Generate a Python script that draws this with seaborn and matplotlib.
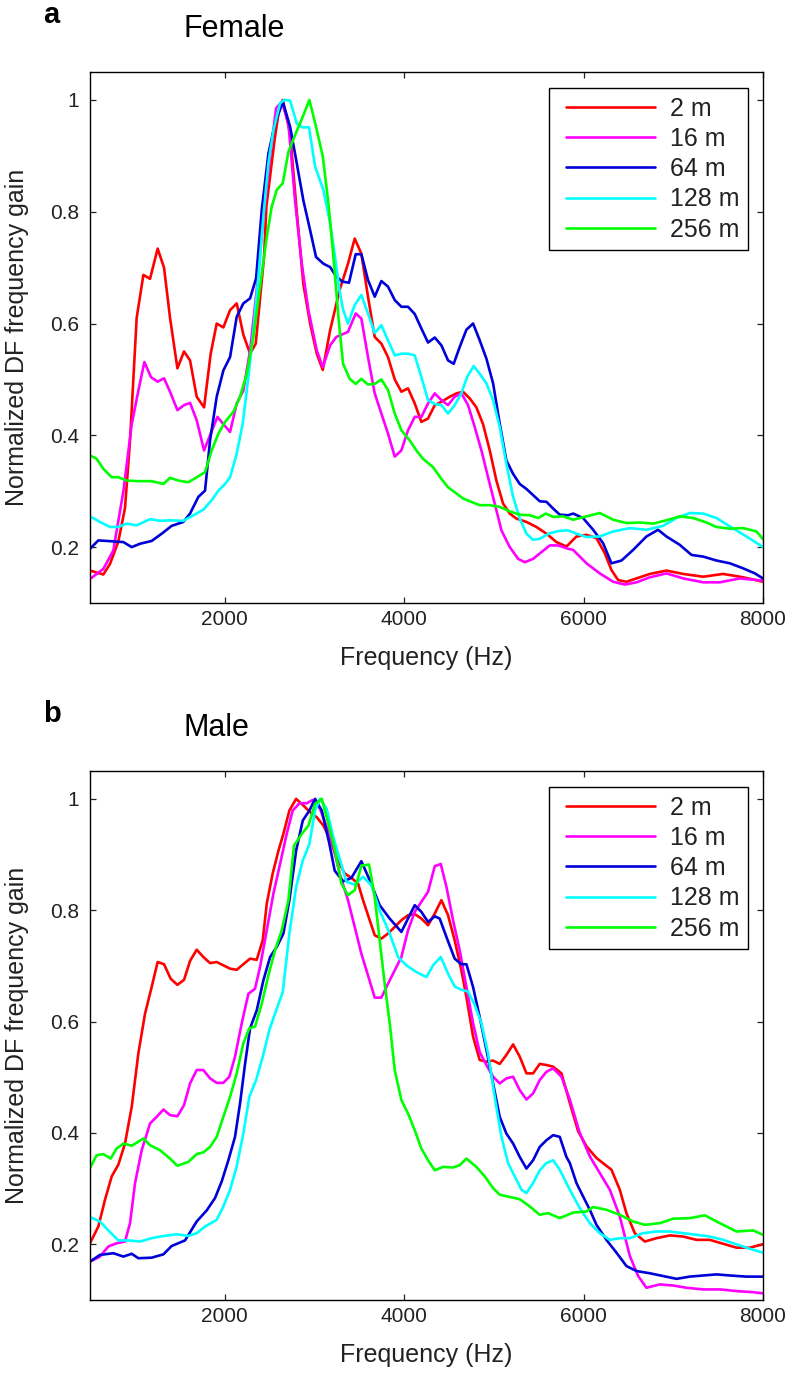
import matplotlib
matplotlib.use("Agg")
import matplotlib.pyplot as plt
from matplotlib.legend_handler import HandlerLine2D
import numpy as np
import pandas as pd
import seaborn as sns

# ---------------- data ----------------
distances = ["2 m", "16 m", "64 m", "128 m", "256 m"]
colors = ["#ff0000", "#ff00ff", "#0000d8", "#00ffff", "#00ff00"]
panel_titles = ["Female", "Male"]
panel_letters = ["a", "b"]
x_ticks = [2000, 4000, 6000, 8000]
y_ticks = [0.2, 0.4, 0.6, 0.8, 1.0]
y_tick_labels = ["0.2", "0.4", "0.6", "0.8", "1"]

# Female (panel a)
fem_2m_x = [500,649,723,816,890,946,1020,1095,1169,1254,1325,1392,1474,1548,1615,1689,1771,1845,1912,1986,2061,2135,2209,2284,2347,2440,2466,2558,2600,2648,2730,2804,2878,2953,3027,3094,3176,3282,3375,3450,3524,3598,3673,3747,3821,3896,3970,4044,4119,4193,4267,4342,4416,4509,4583,4657,4732,4806,4880,4955,5029,5103,5178,5252,5364,5475,5587,5698,5810,5921,6033,6144,6237,6311,6386,6478,6590,6739,6924,7110,7333,7556,7779,8000]
fem_2m_y = [0.158,0.151,0.17,0.21,0.27,0.39,0.61,0.687,0.68,0.734,0.70,0.61,0.52,0.55,0.534,0.469,0.45,0.546,0.60,0.593,0.624,0.636,0.58,0.546,0.564,0.72,0.81,0.93,0.975,1.0,0.94,0.80,0.67,0.60,0.546,0.517,0.588,0.66,0.707,0.752,0.725,0.648,0.576,0.564,0.54,0.50,0.478,0.484,0.457,0.424,0.43,0.454,0.46,0.469,0.475,0.478,0.466,0.45,0.42,0.373,0.319,0.278,0.26,0.251,0.245,0.236,0.224,0.209,0.201,0.219,0.222,0.216,0.189,0.159,0.141,0.138,0.144,0.152,0.158,0.152,0.147,0.152,0.146,0.138]

fem_16m_x = [500,649,760,872,965,1039,1106,1180,1254,1325,1392,1474,1548,1615,1689,1771,1845,1920,1986,2061,2135,2209,2284,2358,2432,2507,2574,2637,2711,2785,2860,2934,3027,3094,3176,3245,3375,3461,3524,3598,3673,3747,3821,3896,3970,4044,4119,4193,4267,4342,4416,4490,4564,4639,4713,4787,4862,4936,5010,5085,5178,5271,5345,5438,5531,5624,5717,5828,5884,6033,6181,6330,6460,6590,6739,6924,7110,7333,7519,7742,8000]
fem_16m_y = [0.143,0.161,0.194,0.30,0.42,0.48,0.531,0.504,0.496,0.502,0.478,0.445,0.454,0.458,0.427,0.373,0.403,0.433,0.42,0.406,0.457,0.48,0.552,0.66,0.79,0.90,0.985,0.997,0.958,0.82,0.707,0.624,0.552,0.522,0.561,0.576,0.585,0.618,0.609,0.54,0.475,0.439,0.403,0.362,0.373,0.409,0.433,0.433,0.457,0.475,0.463,0.454,0.469,0.475,0.454,0.415,0.373,0.325,0.278,0.23,0.2,0.179,0.173,0.179,0.191,0.203,0.203,0.197,0.195,0.171,0.153,0.138,0.133,0.137,0.146,0.153,0.144,0.137,0.137,0.144,0.14]

fem_64m_x = [500,593,872,965,1057,1187,1299,1410,1540,1615,1708,1782,1838,1912,1986,2061,2135,2209,2284,2351,2414,2488,2562,2648,2730,2804,2878,2953,3019,3101,3176,3245,3312,3386,3461,3524,3598,3673,3747,3821,3896,3970,4044,4119,4193,4267,4342,4416,4490,4553,4620,4695,4769,4843,4918,4992,5066,5140,5215,5289,5364,5438,5512,5587,5661,5735,5828,5884,5995,6107,6218,6311,6423,6553,6701,6831,6924,7073,7203,7333,7482,7631,7779,7909,8000]
fem_64m_y = [0.197,0.212,0.209,0.20,0.206,0.211,0.224,0.238,0.245,0.26,0.29,0.301,0.391,0.469,0.516,0.54,0.612,0.636,0.645,0.681,0.803,0.904,0.958,0.997,0.952,0.887,0.82,0.767,0.719,0.707,0.701,0.684,0.675,0.673,0.724,0.724,0.678,0.648,0.676,0.666,0.642,0.63,0.63,0.617,0.591,0.566,0.575,0.561,0.534,0.528,0.558,0.589,0.60,0.57,0.537,0.493,0.421,0.355,0.331,0.313,0.304,0.293,0.282,0.281,0.269,0.258,0.257,0.26,0.252,0.231,0.207,0.171,0.176,0.195,0.219,0.231,0.219,0.204,0.186,0.183,0.176,0.171,0.162,0.153,0.144]

fem_128m_x = [500,611,723,816,909,1020,1169,1280,1392,1540,1652,1763,1856,1931,2005,2061,2135,2202,2265,2321,2377,2432,2488,2544,2618,2666,2730,2804,2867,2941,3008,3101,3176,3230,3280,3320,3375,3450,3524,3598,3673,3747,3821,3896,3970,4044,4119,4193,4267,4342,4416,4490,4564,4639,4701,4776,4843,4918,4992,5066,5140,5215,5289,5364,5438,5512,5624,5735,5828,5921,6033,6181,6330,6516,6701,6887,7036,7185,7333,7482,7631,7816,8000]
fem_128m_y = [0.255,0.245,0.236,0.236,0.242,0.239,0.25,0.247,0.248,0.247,0.257,0.267,0.284,0.301,0.313,0.325,0.367,0.421,0.504,0.588,0.684,0.791,0.887,0.946,0.994,1.0,0.999,0.958,0.951,0.951,0.881,0.839,0.78,0.72,0.66,0.625,0.60,0.633,0.651,0.618,0.583,0.597,0.57,0.543,0.546,0.546,0.543,0.504,0.463,0.456,0.454,0.439,0.454,0.475,0.504,0.524,0.51,0.493,0.463,0.415,0.349,0.29,0.251,0.224,0.213,0.215,0.225,0.229,0.23,0.224,0.218,0.219,0.228,0.234,0.231,0.238,0.252,0.261,0.26,0.252,0.237,0.219,0.20]

fem_256m_x = [500,574,649,742,816,909,1039,1187,1318,1392,1485,1596,1689,1782,1856,1931,2005,2098,2172,2247,2321,2395,2470,2525,2581,2648,2711,2785,2871,2945,3019,3094,3157,3213,3268,3320,3394,3461,3524,3598,3673,3747,3821,3896,3970,4063,4137,4211,4323,4416,4490,4583,4657,4732,4843,4955,5066,5178,5289,5401,5494,5579,5661,5772,5884,6033,6181,6330,6478,6627,6776,6924,7073,7222,7370,7482,7631,7779,7928,8000]
fem_256m_y = [0.364,0.358,0.34,0.325,0.325,0.319,0.318,0.318,0.313,0.324,0.319,0.316,0.325,0.334,0.373,0.403,0.424,0.442,0.469,0.51,0.576,0.666,0.755,0.809,0.839,0.851,0.907,0.937,0.97,1.0,0.952,0.899,0.815,0.719,0.612,0.528,0.501,0.492,0.501,0.491,0.492,0.50,0.481,0.439,0.409,0.391,0.373,0.358,0.343,0.322,0.307,0.296,0.287,0.282,0.275,0.275,0.272,0.264,0.258,0.257,0.252,0.26,0.254,0.255,0.249,0.255,0.261,0.249,0.243,0.244,0.242,0.248,0.255,0.252,0.244,0.236,0.233,0.234,0.228,0.214]

# Male (panel b)
mal_2m_x = [500,593,667,742,816,890,965,1039,1113,1187,1254,1325,1399,1474,1548,1615,1689,1763,1838,1912,1986,2061,2135,2209,2284,2358,2425,2470,2536,2600,2655,2722,2797,2878,2953,3027,3101,3176,3245,3338,3413,3487,3543,3617,3673,3747,3821,3896,3970,4044,4119,4193,4267,4342,4416,4490,4564,4639,4695,4769,4843,4918,4992,5066,5140,5215,5289,5364,5438,5512,5587,5661,5754,5847,5940,6033,6144,6311,6404,6478,6571,6683,6813,6962,7110,7259,7407,7556,7705,7853,8000]
mal_2m_y = [0.202,0.232,0.28,0.322,0.343,0.381,0.447,0.543,0.614,0.662,0.707,0.703,0.677,0.666,0.675,0.709,0.729,0.716,0.705,0.707,0.701,0.695,0.693,0.703,0.713,0.711,0.746,0.812,0.866,0.907,0.937,0.979,1.0,0.988,0.976,0.967,0.952,0.928,0.895,0.866,0.858,0.848,0.818,0.782,0.755,0.749,0.758,0.77,0.782,0.791,0.793,0.785,0.773,0.794,0.818,0.791,0.746,0.692,0.644,0.573,0.531,0.528,0.53,0.524,0.54,0.559,0.537,0.507,0.507,0.524,0.522,0.519,0.507,0.454,0.403,0.376,0.355,0.334,0.298,0.256,0.22,0.205,0.211,0.216,0.214,0.208,0.208,0.201,0.194,0.194,0.20]

mal_16m_x = [500,611,704,797,890,946,1002,1076,1169,1243,1318,1392,1474,1548,1615,1689,1763,1838,1912,1986,2053,2116,2191,2265,2339,2395,2470,2544,2618,2692,2759,2834,2915,2982,3064,3138,3213,3282,3375,3450,3524,3598,3673,3747,3821,3896,3970,4044,4119,4193,4267,4342,4409,4472,4546,4620,4695,4769,4843,4918,4992,5066,5140,5215,5289,5364,5438,5512,5587,5661,5754,5847,5958,6070,6181,6293,6404,6516,6609,6701,6850,6999,7147,7333,7519,7705,7891,8000]
mal_16m_y = [0.169,0.178,0.196,0.202,0.205,0.238,0.31,0.369,0.417,0.429,0.442,0.432,0.43,0.45,0.489,0.513,0.513,0.498,0.49,0.49,0.501,0.537,0.597,0.65,0.659,0.698,0.764,0.83,0.883,0.937,0.979,0.992,0.992,0.998,0.982,0.949,0.913,0.866,0.818,0.77,0.722,0.683,0.643,0.643,0.668,0.692,0.716,0.764,0.797,0.815,0.833,0.879,0.883,0.842,0.782,0.728,0.662,0.597,0.545,0.522,0.501,0.489,0.498,0.501,0.477,0.46,0.471,0.495,0.51,0.516,0.501,0.46,0.40,0.358,0.328,0.298,0.25,0.179,0.143,0.122,0.128,0.126,0.122,0.119,0.119,0.116,0.114,0.112]

mal_64m_x = [500,611,760,872,965,1039,1187,1318,1410,1559,1689,1801,1893,1968,2042,2116,2172,2228,2284,2358,2432,2507,2581,2655,2722,2797,2871,2945,3008,3083,3168,3227,3320,3413,3524,3617,3728,3840,3970,4044,4119,4193,4267,4342,4397,4472,4564,4639,4695,4769,4843,4918,4992,5066,5140,5215,5289,5364,5438,5512,5587,5661,5735,5809,5847,5921,5995,6070,6144,6255,6367,6478,6590,6739,6887,7036,7185,7333,7482,7631,7816,8000]
mal_64m_y = [0.169,0.181,0.184,0.178,0.183,0.175,0.176,0.182,0.197,0.207,0.241,0.261,0.283,0.313,0.351,0.393,0.453,0.524,0.588,0.62,0.674,0.716,0.734,0.758,0.818,0.907,0.961,0.979,1.0,0.979,0.919,0.871,0.852,0.858,0.888,0.854,0.809,0.785,0.761,0.785,0.809,0.797,0.779,0.789,0.785,0.752,0.713,0.703,0.703,0.662,0.608,0.549,0.489,0.429,0.399,0.381,0.357,0.336,0.351,0.375,0.387,0.396,0.393,0.357,0.346,0.31,0.286,0.262,0.235,0.208,0.185,0.161,0.152,0.148,0.143,0.138,0.142,0.144,0.146,0.144,0.142,0.142]

mal_128m_x = [500,611,704,816,927,1057,1187,1318,1466,1596,1689,1782,1912,1986,2061,2135,2209,2276,2351,2425,2499,2574,2648,2722,2797,2871,2945,3008,3064,3138,3213,3287,3357,3450,3543,3635,3728,3840,3933,4026,4137,4249,4323,4409,4490,4564,4639,4713,4787,4862,4936,5010,5085,5159,5233,5308,5364,5438,5512,5587,5661,5735,5847,5958,6070,6181,6293,6404,6516,6664,6813,6962,7110,7259,7407,7556,7705,7853,8000]
mal_128m_y = [0.249,0.241,0.225,0.207,0.207,0.205,0.211,0.215,0.218,0.215,0.22,0.232,0.244,0.268,0.298,0.34,0.399,0.465,0.495,0.537,0.585,0.62,0.653,0.758,0.842,0.889,0.919,0.979,1.0,0.982,0.93,0.89,0.851,0.846,0.86,0.845,0.80,0.758,0.716,0.701,0.689,0.68,0.701,0.716,0.686,0.663,0.657,0.654,0.63,0.597,0.543,0.465,0.393,0.346,0.322,0.298,0.292,0.31,0.333,0.346,0.351,0.334,0.298,0.265,0.238,0.22,0.208,0.211,0.211,0.22,0.223,0.223,0.22,0.217,0.214,0.208,0.20,0.192,0.185]

mal_256m_x = [500,574,649,730,797,872,965,1095,1169,1280,1392,1474,1596,1689,1763,1838,1912,1986,2061,2135,2209,2276,2339,2414,2488,2562,2637,2711,2774,2860,2934,3008,3083,3157,3231,3301,3375,3450,3524,3610,3673,3728,3784,3840,3896,3970,4044,4119,4193,4267,4342,4435,4546,4620,4695,4806,4899,4992,5066,5178,5289,5401,5512,5605,5735,5884,6033,6107,6255,6404,6553,6683,6850,6999,7185,7352,7519,7705,7891,8000]
mal_256m_y = [0.337,0.36,0.362,0.354,0.372,0.381,0.377,0.39,0.378,0.369,0.354,0.341,0.348,0.362,0.365,0.375,0.393,0.429,0.465,0.507,0.561,0.588,0.591,0.632,0.683,0.728,0.764,0.818,0.916,0.937,0.952,0.991,1.0,0.955,0.907,0.848,0.827,0.836,0.88,0.882,0.824,0.746,0.668,0.597,0.513,0.459,0.435,0.405,0.372,0.351,0.333,0.339,0.338,0.342,0.354,0.339,0.322,0.301,0.289,0.285,0.281,0.268,0.253,0.256,0.247,0.257,0.259,0.267,0.262,0.253,0.241,0.235,0.238,0.246,0.247,0.252,0.238,0.223,0.225,0.217]

female_series = [(fem_2m_x, fem_2m_y), (fem_16m_x, fem_16m_y), (fem_64m_x, fem_64m_y),
                 (fem_128m_x, fem_128m_y), (fem_256m_x, fem_256m_y)]
male_series = [(mal_2m_x, mal_2m_y), (mal_16m_x, mal_16m_y), (mal_64m_x, mal_64m_y),
               (mal_128m_x, mal_128m_y), (mal_256m_x, mal_256m_y)]


def make_frame(series):
    parts = []
    for name, (xs, ys) in zip(distances, series):
        parts.append(pd.DataFrame({"freq": xs, "gain": ys, "dist": name}))
    return pd.concat(parts, ignore_index=True)


class InsetLine(HandlerLine2D):
    """Legend line that starts a little inside its handle box (MATLAB-like)."""
    def get_xdata(self, legend, xdescent, ydescent, width, height, fontsize):
        x0 = -xdescent + 0.36 * fontsize
        x1 = -xdescent + width
        xs = np.array([x0, x1])
        return xs, xs


# ---------------- style ----------------
sns.set_theme(style="ticks")
plt.rcParams["font.family"] = ["Liberation Sans", "DejaVu Sans"]
plt.rcParams["axes.linewidth"] = 1.0

W, H = 794, 1378
fig = plt.figure(figsize=(W / 100, H / 100), dpi=100)

axes_px = [(90, 72, 763, 603), (90, 771, 763, 1300)]
for i, (series, (l, t, r, b)) in enumerate(zip([female_series, male_series], axes_px)):
    ax = fig.add_axes([l / W, 1 - b / H, (r - l) / W, (b - t) / H])
    df = make_frame(series)
    sns.lineplot(data=df, x="freq", y="gain", hue="dist", hue_order=distances,
                 palette=colors, estimator=None, sort=False, linewidth=1.9,
                 ax=ax, legend=True)
    ax.set_xlim(500, 8000)
    ax.set_ylim(0.1, 1.05)
    ax.set_xticks(x_ticks)
    ax.set_xticklabels([str(v) for v in x_ticks])
    ax.set_yticks(y_ticks)
    ax.set_yticklabels(y_tick_labels)
    ax.tick_params(direction="in", length=4.5, width=0.9, top=True, right=True,
                   labelsize=15, colors="#222222", labelcolor="#222222")
    ax.tick_params(axis="y", pad=8)
    ax.tick_params(axis="x", pad=5)
    for sp in ax.spines.values():
        sp.set_color("black")
        sp.set_linewidth(1.0)
    ax.set_xlabel("Frequency (Hz)", fontsize=18, color="#222222", labelpad=12)
    ax.set_ylabel("Normalized DF frequency gain", fontsize=18, color="#222222")
    ax.yaxis.set_label_coords(-0.09, 0.5)
    handles, labs = ax.get_legend_handles_labels()
    leg = ax.legend(handles, labs, loc="upper right", bbox_to_anchor=(0.978, 0.970),
                    borderaxespad=0, frameon=True, fancybox=False, framealpha=1,
                    edgecolor="black", fontsize=18, handlelength=3.9,
                    handletextpad=0.6, labelspacing=0.25, borderpad=0.35,
                    handler_map={h: InsetLine() for h in handles})
    leg.get_frame().set_linewidth(1.0)
    for lh in leg.get_lines():
        lh.set_linewidth(1.9)
    for txt in leg.get_texts():
        txt.set_color("#222222")

    off = 699 * i
    fig.text(43 / W, 1 - (23 + off) / H, panel_letters[i], fontsize=21,
             fontweight="bold", ha="left", va="baseline", color="black")
    fig.text(183 / W, 1 - (37 + off) / H, panel_titles[i], fontsize=22,
             ha="left", va="baseline", color="black")

fig.savefig("out.png", dpi=100, facecolor="white")
